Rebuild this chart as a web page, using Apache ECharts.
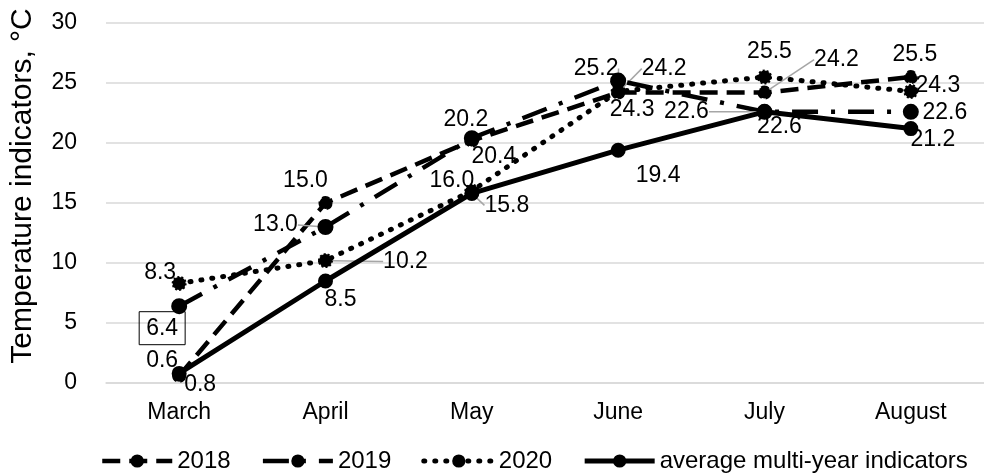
<!DOCTYPE html>
<html>
<head>
<meta charset="utf-8">
<script src="https://cdn.jsdelivr.net/npm/echarts@6/dist/echarts.min.js"></script>
<style>
  html, body { margin: 0; padding: 0; background: #fff; }
  #chart { width: 984px; height: 473px; }
</style>
</head>
<body>
<div id="chart"></div>
<script>
// Monthly temperatures, March to August
const months = ['March', 'April', 'May', 'June', 'July', 'August'];
const t2018 = [0.6, 15.0, 20.2, 24.2, 24.2, 25.5];
const t2019 = [6.4, 13.0, 20.4, 25.2, 22.6, 22.6];
const t2020 = [8.3, 10.2, 16.0, 24.3, 25.5, 24.3];
const tAverage = [0.8, 8.5, 15.8, 19.4, 22.6, 21.2];
const seriesNames = ['2018', '2019', '2020', 'average multi-year indicators'];
const yMin = 0, yMax = 30, yStep = 5;

const FONT = 'Liberation Sans, Arial, sans-serif';

// label placement around each point (dx, dy from the marker centre)
const labelShift = [
  [[-17, -15], [-20, -22], [-6, -21], [46, -24], [72, -33], [4, -22]],
  [[-17, 22], [-50, -2], [22, 18], [-22, -12], [-78, 0], [34, 1]],
  [[-19, -11], [80, 1], [-20, -10], [14, 18], [5, -25], [27, -6]],
  [[21, 11], [15, 19], [35, 12], [40, 25], [15, 15], [22, 11]]
];
// labels that are joined to their point by a leader line
const leaders = [[3, 4], [1, 3, 4], [1], [2]];

const lineLooks = [
  { type: [18, 9], width: 4.5, cap: 'butt', symbolSize: 12, border: 'dashed' },
  { type: [26, 13, 4, 13], width: 4.5, cap: 'butt', symbolSize: 14, border: 'solid' },
  { type: [1, 10], width: 5, cap: 'round', symbolSize: 13, border: 'dotted' },
  { type: 'solid', width: 5, cap: 'butt', symbolSize: 13, border: 'solid' }
];

function buildData(values, si) {
  return values.map(function (v, i) {
    const item = { value: v };
    if (leaders[si].indexOf(i) >= 0) {
      item.labelLine = { show: true };
    }
    if (si === 1 && i === 0) {
      item.label = { borderColor: '#000', borderWidth: 1, padding: [6, 7, 4, 7] };
    }
    return item;
  });
}

const allValues = [t2018, t2019, t2020, tAverage];

const series = allValues.map(function (vals, si) {
  const look = lineLooks[si];
  return {
    name: seriesNames[si],
    type: 'line',
    data: buildData(vals, si),
    symbol: 'circle',
    symbolSize: look.symbolSize,
    z: 2 + si,
    lineStyle: { color: '#000', width: look.width, type: look.type, cap: look.cap },
    itemStyle: { color: '#000', borderColor: '#000', borderWidth: 2, borderType: look.border },
    label: {
      show: true,
      position: 'inside',
      color: '#000',
      fontFamily: FONT,
      fontSize: 23,
      formatter: function (p) { return p.value.toFixed(1); }
    },
    labelLine: {
      show: false,
      lineStyle: { color: '#a6a6a6', width: 1.5 }
    },
    labelLayout: function (p) {
      const s = labelShift[si][p.dataIndex];
      return { dx: s[0], dy: s[1] };
    },
    emphasis: { disabled: true },
    animation: false
  };
});

const legendItems = seriesNames.map(function (n, si) {
  return { name: n, lineStyle: { width: lineLooks[si].width } };
});

const chart = echarts.init(document.getElementById('chart'), null, { renderer: 'canvas' });
chart.setOption({
  backgroundColor: '#fff',
  animation: false,
  grid: { left: 106, right: -7, top: 23, bottom: 90 },
  xAxis: {
    type: 'category',
    data: months,
    boundaryGap: true,
    axisLine: { show: true, lineStyle: { color: '#d9d9d9', width: 1.5 } },
    axisTick: { show: false },
    axisLabel: { color: '#000', fontFamily: FONT, fontSize: 23, margin: 18 }
  },
  yAxis: {
    type: 'value',
    min: yMin,
    max: yMax,
    interval: yStep,
    name: 'Temperature indicators, °C',
    nameLocation: 'middle',
    nameRotate: 90,
    nameGap: 68,
    nameTextStyle: { color: '#000', fontFamily: FONT, fontSize: 30, padding: [0, 0, 0, 34] },
    axisLine: { show: false },
    axisTick: { show: false },
    splitLine: { lineStyle: { color: '#d9d9d9', width: 1.5 } },
    axisLabel: { color: '#000', fontFamily: FONT, fontSize: 23, margin: 29 }
  },
  legend: {
    data: legendItems,
    left: 100,
    top: 449,
    width: 884,
    padding: 0,
    itemWidth: 70,
    itemHeight: 14,
    itemGap: 30,
    textStyle: { color: '#000', fontFamily: FONT, fontSize: 24 }
  },
  series: series
});
</script>
</body>
</html>
